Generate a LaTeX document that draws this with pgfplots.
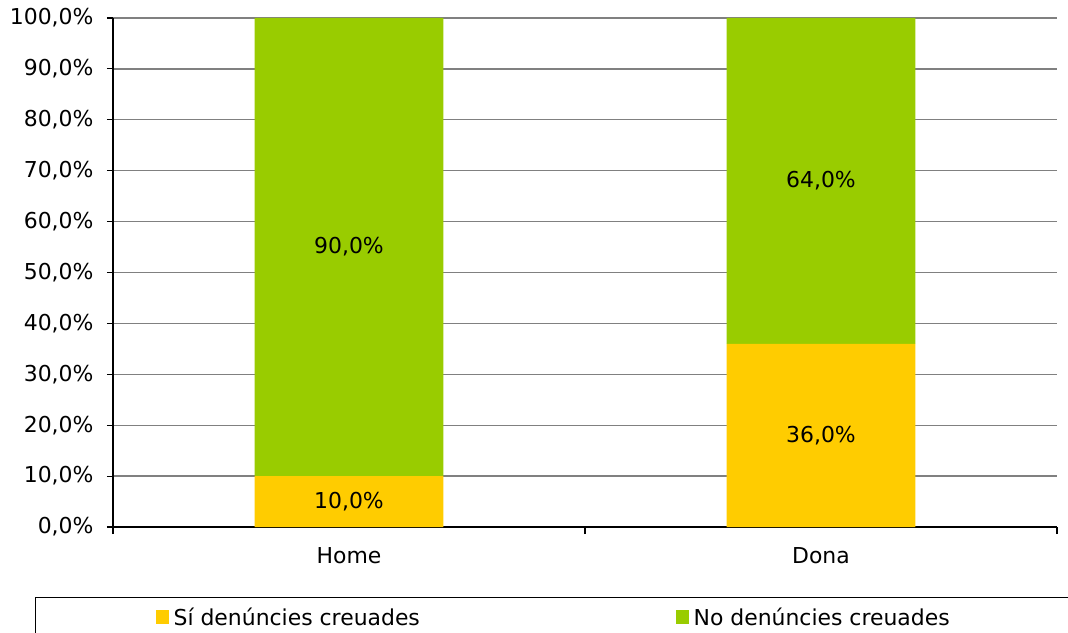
\documentclass[border=0pt]{standalone}
\usepackage{fontspec}
\setmainfont{DejaVu Sans}
\usepackage{pgfplots}
\pgfplotsset{compat=1.18}
\definecolor{barYellow}{HTML}{FFCC00}
\definecolor{barGreen}{HTML}{99CC00}
\definecolor{gridGray}{HTML}{808080}
\pgfplotsset{
  chartbox/.style={scale only axis, width=944bp, height=509bp,
    xmin=0, xmax=2, ymin=0, ymax=100},
}
\begin{document}
\begin{tikzpicture}[font=\fontsize{22}{26}\selectfont]
\path[use as bounding box] (-113bp,-106bp) rectangle (955bp,527bp);
\begin{axis}[
    chartbox,
    ybar stacked, bar width=0.4,
    axis x line*=bottom, axis y line*=left,
    axis line style={line width=1.6bp, black},
    xtick={0.5,1.5}, xticklabels={Home,Dona},
    minor xtick={0,1,2},
    major x tick style={draw=none},
    minor x tick style={line width=1.2bp, black},
    ytick={0,10,...,100},
    yticklabels={{0,0\%},{10,0\%},{20,0\%},{30,0\%},{40,0\%},{50,0\%},{60,0\%},{70,0\%},{80,0\%},{90,0\%},{100,0\%}},
    y tick style={line width=1.2bp, black},
    tick align=outside, major tick length=6bp, minor tick length=7bp,
    ymajorgrids, major grid style={line width=1.4bp, gridGray},
    yticklabel style={xshift=-10bp},
    xticklabel style={yshift=-11bp},
    legend columns=2,
    legend style={at={(rel axis cs:-0.0826,-0.1375)}, anchor=north west,
        draw=black, line width=1.2bp, inner xsep=120bp, inner ysep=8bp,
        column sep=3bp, font=\fontsize{22}{26}\selectfont},
    legend cell align=left,
    legend image code/.code={\fill[#1] (0bp,-7bp) rectangle (13bp,7bp);},
]
\addplot[fill=barYellow, draw=none] coordinates {(0.5,10) (1.5,36)};
\addlegendentry{\makebox[497bp][l]{Sí denúncies creuades}}
\addplot[fill=barGreen, draw=none] coordinates {(0.5,90) (1.5,64)};
\addlegendentry{\makebox[400bp][l]{No denúncies creuades}}
\end{axis}
% value labels, at the middle of each segment
\begin{axis}[
    chartbox, hide axis,
    nodes near coords, point meta=explicit symbolic,
    every node near coord/.append style={anchor=center, black},
]
\addplot[draw=none, mark=none] coordinates {
    (0.5,5) [10,0\%] (0.5,55) [90,0\%] (1.5,18) [36,0\%] (1.5,68) [64,0\%]};
\end{axis}
\end{tikzpicture}
\end{document}
